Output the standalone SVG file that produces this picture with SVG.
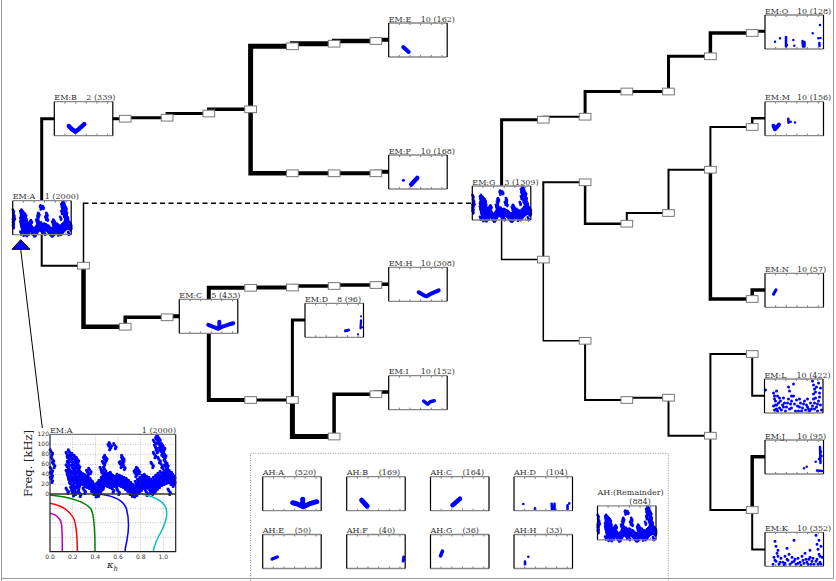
<svg xmlns="http://www.w3.org/2000/svg" xmlns:xlink="http://www.w3.org/1999/xlink" width="836" height="581" viewBox="0 0 836 581">
<style>
.lbl{font-family:"DejaVu Serif",serif;font-size:8px;fill:#333}
.tk{font-family:"DejaVu Sans",sans-serif;font-size:6px;fill:#333}
.c{fill:none;stroke:#000;stroke-linecap:square;stroke-linejoin:miter}
.lv{fill:#fff;stroke:#777;stroke-width:1}
.dots{fill:none;stroke:#0000ff;stroke-linecap:round;stroke-linejoin:round}
.grid{fill:none;stroke:#999;stroke-width:0.6;stroke-dasharray:1 1.5}
</style>
<defs>
<rect id="bg" width="58.5" height="34" fill="#fff"/>
<g id="bd" fill="none">
<path d="M10.65 0v2M21.3 0v2M31.95 0v2M42.6 0v2M53.25 0v2M10.65 34v-2M21.3 34v-2M31.95 34v-2M42.6 34v-2M53.25 34v-2" stroke="#555" stroke-width="0.8"/>
<path d="M0 0H58.5M0 34H58.5" stroke="#888" stroke-width="1.3"/>
<path d="M0 0V34M58.5 0V34" stroke="#000" stroke-width="1.2"/>
</g>
<path id="all" vector-effect="non-scaling-stroke" d="M15 40h0M17 35h0M16 48h0M18 45h0M20 42h0M22 46h0M24 50h0M16 58h0M19 55h0M21 60h0M23 57h0M25 62h0M15 65h0M17 70h0M20 68h0M22 72h0M24 68h0M26 74h0M15 76h0M18 78h0M21 80h0M23 82h0M25 78h0M27 84h0M16 84h0M19 87h0M22 90h0M24 88h0M26 92h0M17 92h0M20 95h0M23 98h0M25 100h0M18 100h0M21 105h0M24 108h0M19 110h0M22 114h0M20 117h0M26 118h0M28 86h0M28 94h0M28 80h0M30 90h0M30 98h0M30 83h0M32 92h0M32 85h0M32 100h0M34 96h0M34 88h0M34 102h0M36 102h0M36 92h0M36 108h0M38 108h0M38 98h0M38 114h0M40 116h0M40 106h0M40 119h0M42 112h0M42 102h0M42 118h0M44 106h0M44 96h0M44 110h0M46 100h0M46 90h0M46 76h0M46 104h0M48 96h0M48 86h0M48 70h0M50 94h0M50 84h0M50 98h0M52 92h0M52 82h0M52 100h0M54 90h0M54 96h0M54 80h0M56 92h0M56 86h0M56 98h0M58 94h0M58 88h0M58 100h0M60 96h0M60 90h0M60 84h0M62 98h0M62 92h0M62 86h0M62 60h0M64 100h0M64 94h0M64 88h0M64 50h0M66 104h0M66 96h0M66 90h0M68 108h0M68 100h0M68 92h0M70 114h0M70 104h0M70 96h0M72 118h0M72 110h0M72 100h0M74 119h0M74 112h0M74 104h0M76 116h0M76 108h0M76 98h0M76 75h0M78 112h0M78 102h0M78 94h0M78 72h0M80 106h0M80 98h0M80 90h0M82 102h0M82 94h0M82 86h0M84 100h0M84 92h0M84 84h0M86 102h0M86 94h0M86 88h0M88 108h0M88 98h0M88 90h0M90 114h0M90 102h0M90 94h0M90 60h0M92 110h0M92 100h0M92 90h0M92 40h0M92 15h0M94 104h0M94 96h0M94 86h0M94 30h0M94 10h0M96 100h0M96 92h0M96 82h0M96 50h0M96 20h0M96 8h0M98 96h0M98 88h0M98 78h0M98 60h0M98 35h0M100 94h0M100 84h0M100 70h0M100 45h0M100 25h0M102 92h0M102 82h0M102 65h0M102 55h0M104 90h0M104 80h0M104 72h0M106 94h0M106 86h0M106 76h0M108 98h0M108 88h0M108 80h0M109 92h0M109 84h0M29 90h0M31 94h0M33 90h0M35 98h0M37 104h0M39 112h0M41 110h0M43 100h0M45 96h0M47 92h0M49 90h0M51 88h0M53 86h0M55 94h0M57 90h0M59 92h0M61 94h0M63 96h0M65 98h0M67 102h0M69 106h0M71 110h0M73 114h0M75 110h0M77 104h0M79 100h0M81 96h0M83 90h0M85 96h0M87 100h0M89 106h0M91 106h0M93 98h0M95 90h0M97 86h0M99 92h0M101 80h0M103 86h0M105 82h0M107 90h0M109 94h0M47 58h0M48 50h0M49 46h0M52 24h0M53 20h0M57 22h0M63 58h0M64 46h0M65 64h0M33 76h0M35 72h0M45 70h0M75 78h0M77 70h0M95 5h0M97 15h0M99 30h0M101 40h0M103 60h0M93 25h0M1 90h0M1 70h0M2 50h0M1 35h0M1 80h0M3 60h0M55 110h0M60 114h0M85 116h0M88 112h0M105 114h0M30 112h0M15 112h0"/>
<g id="alld">
<use href="#all"/>
<use href="#all" transform="translate(1.3,3.5)"/>
<use href="#all" transform="translate(-0.8,-3.5)"/>
<use href="#all" transform="translate(0.7,7)"/>
</g>
</defs>

<g id="frame-lines" fill="none" stroke="#999" stroke-width="1">
<path d="M1.5 0V581M833.5 0V578.5M1.5 578.5H833.5"/>
</g>

<g id="ah-panel">
<path d="M250.5 581V453.3H668.3V581" fill="none" stroke="#777" stroke-width="0.8" stroke-dasharray="1 1.5"/>
</g>

<g id="connectors" class="c">
<path d="M41.7 218V118.8H83.5" stroke-width="3"/>
<path d="M83.5 118.7H125.2" stroke-width="3"/>
<path d="M125.2 118.7V117.7H167.1" stroke-width="3"/>
<path d="M167.1 117.7V113.5H208.8" stroke-width="3"/>
<path d="M208.8 113.5V109.3H250.6" stroke-width="3.5"/>
<path d="M250.6 109.3V46.3H292.4" stroke-width="5"/>
<path d="M292.4 46.3V43.7H334.1" stroke-width="5"/>
<path d="M334.1 43.7V41H375.9" stroke-width="4.5"/>
<path d="M375.9 41V39.8H417.9" stroke-width="4"/>
<path d="M250.6 109.3V173.3H292.4" stroke-width="4.5"/>
<path d="M292.4 173.3H334.1" stroke-width="4"/>
<path d="M334.1 173.3H375.9" stroke-width="4"/>
<path d="M375.9 173.3V171.7H417.9" stroke-width="4"/>
<path d="M41.7 218V265.7H83.5" stroke-width="2"/>
<path d="M83.5 265.7V203.3" stroke-width="1.5"/>
<path d="M83.5 203.3H472.3" stroke-width="1.5" stroke-dasharray="5 3.5" stroke-linecap="butt"/>
<path d="M83.5 265.7V326.7H125.2" stroke-width="4.5"/>
<path d="M125.2 326.7V317.3H167.1" stroke-width="3.5"/>
<path d="M167.1 317.3V316.3H208.8" stroke-width="4"/>
<path d="M208.8 316.3V287.8H250.6" stroke-width="4"/>
<path d="M250.6 287.8V287.5H292.4" stroke-width="4"/>
<path d="M292.4 287.5V286H334.1" stroke-width="3.5"/>
<path d="M334.1 286V285H375.9" stroke-width="3.5"/>
<path d="M375.9 285V284.2H417.9" stroke-width="3.5"/>
<path d="M208.8 316.3V400H250.6" stroke-width="4"/>
<path d="M250.6 400H292.4" stroke-width="3"/>
<path d="M292.4 400V320H334.1" stroke-width="3"/>
<path d="M292.4 400V436.5H334.1" stroke-width="5"/>
<path d="M334.1 436.5V394.2H375.9" stroke-width="3.5"/>
<path d="M375.9 394.2V392H417.9" stroke-width="3.5"/>
<path d="M501.6 203.3V119.7H543.3" stroke-width="3"/>
<path d="M543.3 119.7V116.7H585.1" stroke-width="2"/>
<path d="M585.1 116.7V91.5H626.8" stroke-width="3"/>
<path d="M626.8 91.5H668.5" stroke-width="3"/>
<path d="M668.5 91.5V56.3H710.4" stroke-width="3"/>
<path d="M710.4 56.3V33H752.2" stroke-width="3.5"/>
<path d="M752.2 33V31.3H794" stroke-width="3"/>
<path d="M501.6 203.3V259.6H543.3" stroke-width="1.5"/>
<path d="M543.3 259.6V182.3H585.1" stroke-width="2"/>
<path d="M585.1 182.3V223.7H626.8" stroke-width="2.5"/>
<path d="M626.8 223.7V213H668.5" stroke-width="2"/>
<path d="M668.5 213V169.7H710.4" stroke-width="2"/>
<path d="M710.4 169.7V127H752.2" stroke-width="2"/>
<path d="M752.2 127V118.3H794" stroke-width="2.5"/>
<path d="M710.4 169.7V299H752.2" stroke-width="3.5"/>
<path d="M752.2 299V290H794" stroke-width="3.5"/>
<path d="M543.3 259.6V340.8H585.1" stroke-width="1.5"/>
<path d="M585.1 340.8V400H626.8" stroke-width="2"/>
<path d="M626.8 400V397.7H668.5" stroke-width="2"/>
<path d="M668.5 397.7V435.7H710.4" stroke-width="2"/>
<path d="M710.4 435.7V354H752.2" stroke-width="2"/>
<path d="M752.2 354V395.8H794" stroke-width="2"/>
<path d="M710.4 435.7V510H752.2" stroke-width="2"/>
<path d="M752.2 510V456.7H794" stroke-width="3.5"/>
<path d="M752.2 510V549.5H794" stroke-width="2"/>
<path d="M20.7 249.3L42.3 428" stroke-width="1" stroke-linecap="butt"/>
</g>

<g id="levels" class="lv">
<g id="n-b1"><rect x="119.35" y="115.35" width="11.7" height="6.7"/></g>
<g id="n-b2"><rect x="161.25" y="114.35" width="11.7" height="6.7"/></g>
<g id="n-b3"><rect x="202.95" y="110.15" width="11.7" height="6.7"/></g>
<g id="n-b4"><rect x="244.75" y="105.95" width="11.7" height="6.7"/></g>
<g id="n-e1"><rect x="286.55" y="42.95" width="11.7" height="6.7"/></g>
<g id="n-e2"><rect x="328.25" y="40.35" width="11.7" height="6.7"/></g>
<g id="n-e3"><rect x="370.05" y="37.65" width="11.7" height="6.7"/></g>
<g id="n-f1"><rect x="286.55" y="169.95" width="11.7" height="6.7"/></g>
<g id="n-f2"><rect x="328.25" y="169.95" width="11.7" height="6.7"/></g>
<g id="n-f3"><rect x="370.05" y="169.95" width="11.7" height="6.7"/></g>
<g id="n-c0"><rect x="77.65" y="262.35" width="11.7" height="6.7"/></g>
<g id="n-c1"><rect x="119.35" y="323.35" width="11.7" height="6.7"/></g>
<g id="n-c2"><rect x="161.25" y="313.95" width="11.7" height="6.7"/></g>
<g id="n-h1"><rect x="244.75" y="284.45" width="11.7" height="6.7"/></g>
<g id="n-h2"><rect x="286.55" y="284.15" width="11.7" height="6.7"/></g>
<g id="n-h3"><rect x="328.25" y="282.65" width="11.7" height="6.7"/></g>
<g id="n-h4"><rect x="370.05" y="281.65" width="11.7" height="6.7"/></g>
<g id="n-i1"><rect x="244.75" y="396.65" width="11.7" height="6.7"/></g>
<g id="n-i2"><rect x="286.55" y="396.65" width="11.7" height="6.7"/></g>
<g id="n-i3"><rect x="328.25" y="433.15" width="11.7" height="6.7"/></g>
<g id="n-i4"><rect x="370.05" y="390.85" width="11.7" height="6.7"/></g>
<g id="n-a"><rect x="537.45" y="116.35" width="11.7" height="6.7"/></g>
<g id="n-b"><rect x="579.25" y="113.35" width="11.7" height="6.7"/></g>
<g id="n-c"><rect x="620.95" y="88.15" width="11.7" height="6.7"/></g>
<g id="n-d"><rect x="662.65" y="88.15" width="11.7" height="6.7"/></g>
<g id="n-e"><rect x="704.55" y="52.95" width="11.7" height="6.7"/></g>
<g id="n-f"><rect x="746.35" y="29.65" width="11.7" height="6.7"/></g>
<g id="n-g"><rect x="537.45" y="256.25" width="11.7" height="6.7"/></g>
<g id="n-h"><rect x="579.25" y="178.95" width="11.7" height="6.7"/></g>
<g id="n-i"><rect x="620.95" y="220.35" width="11.7" height="6.7"/></g>
<g id="n-j"><rect x="662.65" y="209.65" width="11.7" height="6.7"/></g>
<g id="n-k"><rect x="704.55" y="166.35" width="11.7" height="6.7"/></g>
<g id="n-l"><rect x="746.35" y="123.65" width="11.7" height="6.7"/></g>
<g id="n-m"><rect x="746.35" y="295.65" width="11.7" height="6.7"/></g>
<g id="n-n"><rect x="579.25" y="337.45" width="11.7" height="6.7"/></g>
<g id="n-o"><rect x="620.95" y="396.65" width="11.7" height="6.7"/></g>
<g id="n-p"><rect x="662.65" y="394.35" width="11.7" height="6.7"/></g>
<g id="n-q"><rect x="704.55" y="432.35" width="11.7" height="6.7"/></g>
<g id="n-r"><rect x="746.35" y="350.65" width="11.7" height="6.7"/></g>
<g id="n-s"><rect x="746.35" y="506.65" width="11.7" height="6.7"/></g>
</g>

<g id="EM-A" transform="translate(12.7,200.7)"><use href="#bg"/><use href="#alld" class="dots" transform="scale(0.532,0.2833)" style="stroke-width:2.6"/><use href="#bd"/><text class="lbl" x="0" y="-1.5">EM:A</text><text class="lbl" x="32" y="-1.5">1 (2000)</text></g>
<g id="EM-B" transform="translate(54.3,101.7)"><use href="#bg"/><path class="dots" style="stroke-width:4.5" d="M14.5 24.5L17.5 27.5L21 30L25 27L30 22.5"/><use href="#bd"/><text class="lbl" x="0" y="-1.5">EM:B</text><text class="lbl" x="32" y="-1.5">2 (339)</text></g>
<g id="EM-C" transform="translate(179.3,299.3)"><use href="#bg"/><path class="dots" style="stroke-width:4" d="M29 25.5L34 27.5L39 29.5L44 27L50 25L54 24M40 22.5L40 27"/><use href="#bd"/><text class="lbl" x="0" y="-1.5">EM:C</text><text class="lbl" x="32" y="-1.5">5 (433)</text></g>
<g id="EM-D" transform="translate(305,303.3)"><use href="#bg"/><path class="dots" style="stroke-width:3" d="M40.5 27.5L43.5 26.8"/><path class="dots" style="stroke-width:2.2" d="M56 13h0M56 17L55.5 25M53 31h0M57 24h0"/><use href="#bd"/><text class="lbl" x="0" y="-1.5">EM:D</text><text class="lbl" x="32" y="-1.5">8 (96)</text></g>
<g id="EM-E" transform="translate(388.7,23)"><use href="#bg"/><path class="dots" style="stroke-width:4" d="M14.5 24L20 29"/><use href="#bd"/><text class="lbl" x="0" y="-1.5">EM:E</text><text class="lbl" x="32" y="-1.5">10 (162)</text></g>
<g id="EM-F" transform="translate(388.7,155)"><use href="#bg"/><path class="dots" style="stroke-width:4.5" d="M22.5 29.5L28.5 23"/><path class="dots" style="stroke-width:3" d="M14.7 25.3h0"/><use href="#bd"/><text class="lbl" x="0" y="-1.5">EM:F</text><text class="lbl" x="32" y="-1.5">10 (168)</text></g>
<g id="EM-H" transform="translate(388.7,267.3)"><use href="#bg"/><path class="dots" style="stroke-width:4" d="M30 25L36 28.5M38 29L42 26.5L50 23"/><use href="#bd"/><text class="lbl" x="0" y="-1.5">EM:H</text><text class="lbl" x="32" y="-1.5">10 (308)</text></g>
<g id="EM-I" transform="translate(388.7,375.7)"><use href="#bg"/><path class="dots" style="stroke-width:3.5" d="M35 25.5L39 28.5L41.5 26L45.5 25"/><use href="#bd"/><text class="lbl" x="0" y="-1.5">EM:I</text><text class="lbl" x="32" y="-1.5">10 (152)</text></g>
<g id="EM-G" transform="translate(472.3,186)"><use href="#bg"/><use href="#alld" class="dots" transform="scale(0.532,0.2833)" style="stroke-width:2.6"/><use href="#bd"/><text class="lbl" x="0" y="-1.5">EM:G</text><text class="lbl" x="32" y="-1.5">3 (1309)</text></g>
<g id="EM-O" transform="translate(765,15)"><use href="#bg"/><path class="dots" style="stroke-width:2.5" d="M10 26.7h0M15 23.3h0M21 22L21 31.5M22 30h0M28.3 25h0M29.3 30.7h0M37.5 26L38 31.5M39.5 27L39.5 31.5M47.7 18.3h0M53.3 23.3h0M54.3 28L54.5 31M55 10h0M55.5 23h0"/><use href="#bd"/><text class="lbl" x="0" y="-1.5">EM:O</text><text class="lbl" x="32" y="-1.5">10 (128)</text></g>
<g id="EM-M" transform="translate(765,101.7)"><use href="#bg"/><path class="dots" style="stroke-width:4" d="M8.5 24L10 27.5L14 23"/><path class="dots" style="stroke-width:2.5" d="M23.3 17L23.5 21M25.7 20h0M30 20.7h0"/><use href="#bd"/><text class="lbl" x="0" y="-1.5">EM:M</text><text class="lbl" x="32" y="-1.5">10 (156)</text></g>
<g id="EM-N" transform="translate(765,273.3)"><use href="#bg"/><path class="dots" style="stroke-width:3" d="M11 16.5L8.5 21"/><use href="#bd"/><text class="lbl" x="0" y="-1.5">EM:N</text><text class="lbl" x="32" y="-1.5">10 (57)</text></g>
<g id="EM-L" transform="translate(764.5,379)"><use href="#bg"/><path class="dots" style="stroke-width:3" d="M1 11h0M9 14h0M10 20h0M11 26h0M12 30h0M13 17h0M14 24h0M10 31h0M13 32h0M16 22h0M18 26h0M17 31h0M20 24h0M22 28h0M21 32h0M24 20h0M26 25h0M25 30h0M27 22h0M24 8h0M25 12h0M29 5h0M29 17h0M32 21h0M33 27h0M34 32h0M36 24h0M38 29h0M40 22h0M41 31h0M42 26h0M44 30h0M46 24h0M48 2h0M49 6h0M50 10h0M49 15h0M51 19h0M50 24h0M52 28h0M53 32h0M54 4h0M55 14h0M54 22h0M56 26h0M57 31h0M47 30h0M45 32h0M31 32h0M19 19h0M15 29h0M35 20h0M43 20h0M11 22h0M12 12h0M51 13h0M52 8h0M10 17h0M12 26h0M15 19h0M19 28h0M23 24h0M27 29h0M30 25h0M35 28h0M37 32h0M39 25h0M43 28h0M48 27h0M50 30h0M53 25h0M55 18h0M56 9h0M49 20h0M27 17h0M9 27h0"/><use href="#bd"/><text class="lbl" x="0" y="-1.5">EM:L</text><text class="lbl" x="32" y="-1.5">10 (422)</text></g>
<g id="EM-J" transform="translate(765,440)"><use href="#bg"/><path class="dots" style="stroke-width:2.5" d="M55 7L55.5 23M50.7 21.7h0M39 28.3h0M41.7 26.7h0M52 30.5L57 31M56 11.7h0M56.5 16h0M54 19h0"/><use href="#bd"/><text class="lbl" x="0" y="-1.5">EM:J</text><text class="lbl" x="32" y="-1.5">10 (95)</text></g>
<g id="EM-K" transform="translate(765,532.3)"><use href="#bg"/><path class="dots" style="stroke-width:3" d="M10 9h0M11 14h0M13 18h0M12 21h0M9 25h0M11 29h0M14 32h0M16 26h0M18 30h0M20 24h0M22 16h0M23 28h0M25 32h0M27 25h0M29 8h0M29 29h0M31 32h0M33 26h0M35 30h0M37 24h0M39 31h0M41 27h0M43 32h0M45 18h0M45 25h0M47 29h0M49 32h0M51 3h0M52 12h0M53 17h0M54 22h0M52 27h0M55 30h0M57 25h0M56 32h0M19 33h0M8 32h0M36 33h0M24 22h0M40 21h0M10 28h0M13 24h0M15 30h0M20 31h0M22 27h0M27 30h0M30 27h0M33 31h0M38 28h0M42 30h0M44 27h0M46 32h0M48 26h0M51 29h0M53 32h0M55 24h0M56 14h0M54 8h0"/><use href="#bd"/><text class="lbl" x="0" y="-1.5">EM:K</text><text class="lbl" x="32" y="-1.5">10 (352)</text></g>

<g id="AH-A" transform="translate(262.7,476.7)"><use href="#bg"/><path class="dots" style="stroke-width:5" d="M30 26L34 27L40.5 30L47 27L54 25M40 22.5L40 28"/><use href="#bd"/><text class="lbl" x="0" y="-1.5">AH:A</text><text class="lbl" x="32" y="-1.5">(520)</text></g>
<g id="AH-B" transform="translate(346.7,476.7)"><use href="#bg"/><path class="dots" style="stroke-width:5" d="M15 23.5L20.5 29.5"/><use href="#bd"/><text class="lbl" x="0" y="-1.5">AH:B</text><text class="lbl" x="32" y="-1.5">(169)</text></g>
<g id="AH-C" transform="translate(430.5,476.7)"><use href="#bg"/><path class="dots" style="stroke-width:4.5" d="M22 28.5L29.5 22"/><use href="#bd"/><text class="lbl" x="0" y="-1.5">AH:C</text><text class="lbl" x="32" y="-1.5">(164)</text></g>
<g id="AH-D" transform="translate(514,476.7)"><use href="#bg"/><path class="dots" style="stroke-width:2.6" d="M9.3 27.3h0M21 31.7L21 33M37.7 27L38 33M40.5 27L40.5 33M53.5 28.5L53.5 33M55.3 26.7h0"/><use href="#bd"/><text class="lbl" x="0" y="-1.5">AH:D</text><text class="lbl" x="32" y="-1.5">(104)</text></g>
<g id="AH-E" transform="translate(262.7,534.5)"><use href="#bg"/><path class="dots" style="stroke-width:3.5" d="M9.5 24.5L14.5 22.5"/><use href="#bd"/><text class="lbl" x="0" y="-1.5">AH:E</text><text class="lbl" x="32" y="-1.5">(50)</text></g>
<g id="AH-F" transform="translate(346.7,534.5)"><use href="#bg"/><path class="dots" style="stroke-width:3" d="M57 22.5L56.5 26.5"/><use href="#bd"/><text class="lbl" x="0" y="-1.5">AH:F</text><text class="lbl" x="32" y="-1.5">(40)</text></g>
<g id="AH-G" transform="translate(430.5,534.5)"><use href="#bg"/><path class="dots" style="stroke-width:3.5" d="M12 16.5L10 21.5"/><use href="#bd"/><text class="lbl" x="0" y="-1.5">AH:G</text><text class="lbl" x="32" y="-1.5">(36)</text></g>
<g id="AH-H" transform="translate(514,534.5)"><use href="#bg"/><path class="dots" style="stroke-width:2.6" d="M14.3 22.3h0M11 27L11 29.7"/><use href="#bd"/><text class="lbl" x="0" y="-1.5">AH:H</text><text class="lbl" x="32" y="-1.5">(33)</text></g>
<g id="AH-Rem" transform="translate(597.5,505.8)"><use href="#bg"/><use href="#alld" class="dots" transform="scale(0.532,0.2833)" style="stroke-width:2.6"/><use href="#bd"/><text class="lbl" x="0" y="-10.8">AH:(Remainder)</text><text class="lbl" x="31.8" y="-1.5">(884)</text></g>

<g id="pointer">
<path d="M12 249.3H30L20.7 239.7Z" fill="#0000ff" stroke="#000" stroke-width="1"/>
</g>

<g id="inset-EM-A">
<rect x="50" y="434.3" width="125.7" height="117.4" fill="#fff"/>
<path class="grid" d="M72.7 434.3V551.7M95.3 434.3V551.7M118 434.3V551.7M140.7 434.3V551.7M163.3 434.3V551.7M50 444.3H175.7M50 454.3H175.7M50 464.3H175.7M50 474.3H175.7M50 484.3H175.7M50 508.3H175.7M50 522.7H175.7M50 537.3H175.7"/>
<use href="#alld" class="dots" transform="translate(50,434.3) scale(1.133,0.497)" style="stroke-width:3.2"/>
<path d="M50 513.3C56 514.5 60.5 518 61.5 524C62.3 530 62.3 540 62.3 551.7" fill="none" stroke="#bf00bf" stroke-width="1.5"/>
<path d="M50 503.3C60 505 69 510 73.5 518C76.5 525 77.3 535 77.3 551.7" fill="none" stroke="#ff0000" stroke-width="1.5"/>
<path d="M50 495C70 497 85 502 91 509C94.5 515 95 530 95 551.7" fill="none" stroke="#008000" stroke-width="1.5"/>
<path d="M100 494C115 496 124 501 126.5 509C129.5 520 128.5 532 127 540C125.8 546 125 549 125 551.7" fill="none" stroke="#0000ff" stroke-width="1.5"/>
<path d="M141.7 494C152 496 162 500 165.5 507C168 513 166 522 162 530C158 537 154 545 153.3 551.7" fill="none" stroke="#00bfbf" stroke-width="1.5"/>
<path d="M50 494H175.7" stroke="#333" stroke-width="1.5"/>
<path d="M50 434.3H175.7" stroke="#777" stroke-width="1.2"/>
<path d="M50 434.3V551.7H175.7V434.3" fill="none" stroke="#222" stroke-width="1.2"/>
<text class="lbl" x="50" y="433">EM:A</text>
<text class="lbl" x="176" y="433" text-anchor="end">1 (2000)</text>
<g class="tk" text-anchor="end">
<text x="49" y="436.3">120</text><text x="49" y="446.3">100</text><text x="49" y="456.3">80</text><text x="49" y="466.3">60</text><text x="49" y="476.3">40</text><text x="49" y="486.3">20</text><text x="49" y="496.3">0</text>
</g>
<g class="tk" text-anchor="middle">
<text x="50" y="558.5">0.0</text><text x="72.7" y="558.5">0.2</text><text x="95.3" y="558.5">0.4</text><text x="118" y="558.5">0.6</text><text x="140.7" y="558.5">0.8</text><text x="163.3" y="558.5">1.0</text>
</g>
<text x="0" y="0" transform="translate(31.5,463.5) rotate(-90)" text-anchor="middle" style="font-family:'DejaVu Serif',serif;font-size:11.5px;fill:#222">Freq. [kHz]</text>
<text x="107" y="568" style="font-family:'DejaVu Serif',serif;font-size:10px;font-style:italic;fill:#222">κ<tspan dy="2.5" style="font-size:7px">h</tspan></text>
</g>
</svg>
